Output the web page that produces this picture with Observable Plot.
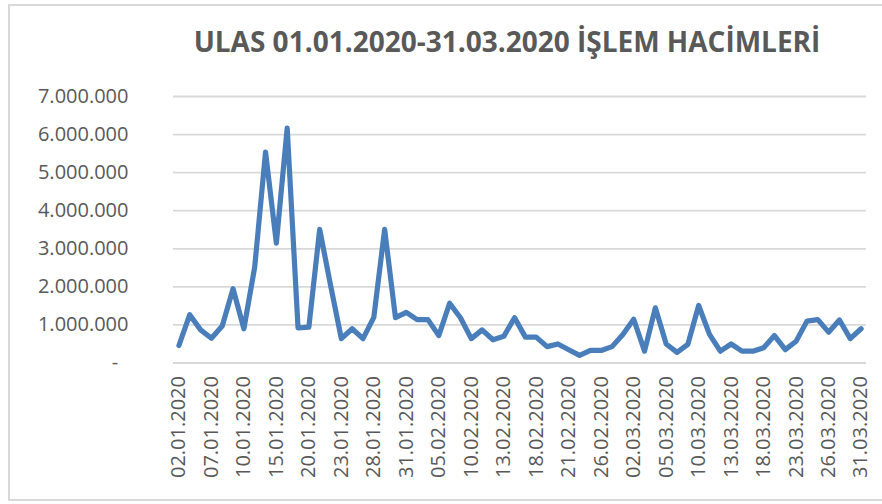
<!DOCTYPE html>
<html>
<head>
<meta charset="utf-8">
<script src="https://cdn.jsdelivr.net/npm/d3@7"></script>
<script src="https://cdn.jsdelivr.net/npm/@observablehq/plot@0.6"></script>
<style>
  html, body { margin: 0; padding: 0; background: #fff; }
  #wrap { position: relative; width: 882px; height: 504px; overflow: hidden; }
  #frame { position: absolute; left: 8px; top: 4px; width: 900px; height: 497px; border: 2px solid #d9d9d9; box-sizing: border-box; }
  #title { position: absolute; left: 0; top: 21px; width: 882px; padding-left: 132px; box-sizing: border-box; text-align: center;
           font-family: "Open Sans", sans-serif; font-weight: 700; font-size: 28px; line-height: 40px; color: #595959; }
  #chart { position: absolute; left: 0; top: 75px; }
  #chart svg { overflow: visible; }
</style>
</head>
<body>
<div id="wrap">
  <div id="frame"></div>
  <div id="title">ULAS 01.01.2020-31.03.2020 İŞLEM HACİMLERİ</div>
  <div id="chart"></div>
</div>
<script>
const dates = [
  "02.01.2020","03.01.2020","06.01.2020","07.01.2020","08.01.2020","09.01.2020","10.01.2020","13.01.2020","14.01.2020","15.01.2020",
  "16.01.2020","17.01.2020","20.01.2020","21.01.2020","22.01.2020","23.01.2020","24.01.2020","27.01.2020","28.01.2020","29.01.2020",
  "30.01.2020","31.01.2020","03.02.2020","04.02.2020","05.02.2020","06.02.2020","07.02.2020","10.02.2020","11.02.2020","12.02.2020",
  "13.02.2020","14.02.2020","17.02.2020","18.02.2020","19.02.2020","20.02.2020","21.02.2020","24.02.2020","25.02.2020","26.02.2020",
  "27.02.2020","28.02.2020","02.03.2020","03.03.2020","04.03.2020","05.03.2020","06.03.2020","09.03.2020","10.03.2020","11.03.2020",
  "12.03.2020","13.03.2020","16.03.2020","17.03.2020","18.03.2020","19.03.2020","20.03.2020","23.03.2020","24.03.2020","25.03.2020",
  "26.03.2020","27.03.2020","30.03.2020","31.03.2020"
];
const volumes = [
  460000, 1270000, 870000, 650000, 970000, 1950000, 900000, 2520000, 5540000, 3150000,
  6170000, 920000, 940000, 3510000, 2050000, 640000, 900000, 640000, 1200000, 3510000,
  1190000, 1330000, 1140000, 1140000, 720000, 1570000, 1190000, 640000, 870000, 610000,
  700000, 1190000, 680000, 680000, 430000, 500000, 350000, 200000, 330000, 330000,
  430000, 750000, 1150000, 310000, 1450000, 500000, 280000, 490000, 1510000, 750000,
  310000, 500000, 310000, 310000, 400000, 720000, 350000, 570000, 1100000, 1140000,
  810000, 1130000, 640000, 900000
];
const yTicks = [0, 1000000, 2000000, 3000000, 4000000, 5000000, 6000000, 7000000];
const xTickLabels = dates.filter((d, i) => i % 3 === 0);

const data = dates.map((d, i) => ({date: d, value: volumes[i]}));
const trFmt = d3.formatLocale({decimal: ",", thousands: ".", grouping: [3], currency: ["", ""]}).format(",");

const chart = Plot.plot({
  width: 882,
  height: 429,
  marginTop: 21,
  marginBottom: 141.5,
  marginLeft: 173,
  marginRight: 16,
  style: {fontFamily: "'Open Sans', sans-serif", fontSize: "20px", color: "#595959", background: "transparent"},
  x: {type: "point", domain: dates, padding: 0.5, label: null},
  y: {domain: [0, 7000000], label: null},
  marks: [
    Plot.ruleY(yTicks, {stroke: "#d9d9d9", strokeWidth: 1.8, strokeOpacity: 1}),
    Plot.axisY({ticks: yTicks, tickSize: 0, tickPadding: 45, tickFormat: d => d === 0 ? "-\u00a0\u00a0" : trFmt(d), fill: "#595959", fontSize: 20, label: null}),
    Plot.axisX({ticks: xTickLabels, tickSize: 0, tickPadding: 13, tickRotate: -90, fill: "#595959", fontSize: 20, label: null}),
    Plot.lineY(data, {x: "date", y: "value", stroke: "#4a7ebb", strokeWidth: 5.2, strokeLinejoin: "round", strokeLinecap: "round",
      style: "filter: drop-shadow(1px 3px 2px rgba(0,0,0,0.28));"})
  ]
});
document.getElementById("chart").appendChild(chart);
</script>
</body>
</html>
